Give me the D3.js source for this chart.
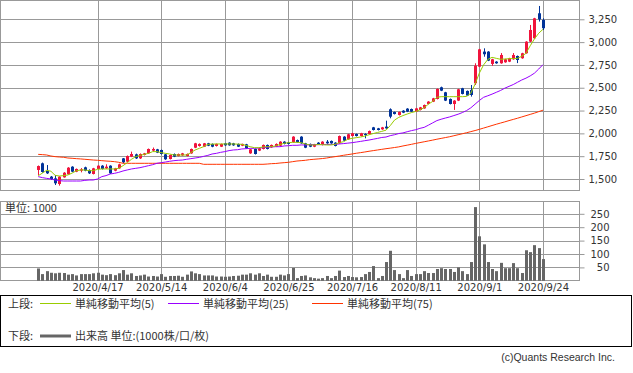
<!DOCTYPE html>
<html>
<head>
<meta charset="utf-8">
<script src="https://cdn.jsdelivr.net/npm/d3@7"></script>
<style>
body{margin:0;background:#fff;}
svg text{font-family:"DejaVu Sans",sans-serif;fill:#333;}
svg .jp{font-family:"Noto Sans CJK JP",sans-serif;}
</style>
</head>
<body>
<script>
//trading days shown on the chart
var dates = ["2020/3/30","2020/3/31","2020/4/1","2020/4/2","2020/4/3","2020/4/6","2020/4/7","2020/4/8","2020/4/9","2020/4/10",
    "2020/4/13","2020/4/14","2020/4/15","2020/4/16","2020/4/17","2020/4/20","2020/4/21","2020/4/22","2020/4/23","2020/4/24",
    "2020/4/27","2020/4/28","2020/4/30","2020/5/1","2020/5/7","2020/5/8","2020/5/11","2020/5/12","2020/5/13","2020/5/14",
    "2020/5/15","2020/5/18","2020/5/19","2020/5/20","2020/5/21","2020/5/22","2020/5/25","2020/5/26","2020/5/27","2020/5/28",
    "2020/5/29","2020/6/1","2020/6/2","2020/6/3","2020/6/4","2020/6/5","2020/6/8","2020/6/9","2020/6/10","2020/6/11",
    "2020/6/12","2020/6/15","2020/6/16","2020/6/17","2020/6/18","2020/6/19","2020/6/22","2020/6/23","2020/6/24","2020/6/25",
    "2020/6/26","2020/6/29","2020/6/30","2020/7/1","2020/7/2","2020/7/3","2020/7/6","2020/7/7","2020/7/8","2020/7/9",
    "2020/7/10","2020/7/13","2020/7/14","2020/7/15","2020/7/16","2020/7/17","2020/7/20","2020/7/21","2020/7/22","2020/7/27",
    "2020/7/28","2020/7/29","2020/7/30","2020/7/31","2020/8/3","2020/8/4","2020/8/5","2020/8/6","2020/8/7","2020/8/11",
    "2020/8/12","2020/8/13","2020/8/14","2020/8/17","2020/8/18","2020/8/19","2020/8/20","2020/8/21","2020/8/24","2020/8/25",
    "2020/8/26","2020/8/27","2020/8/28","2020/8/31","2020/9/1","2020/9/2","2020/9/3","2020/9/4","2020/9/7","2020/9/8",
    "2020/9/9","2020/9/10","2020/9/11","2020/9/14","2020/9/15","2020/9/16","2020/9/17","2020/9/18","2020/9/23","2020/9/24"];

//candle values
var opens = [1599,1672,1591,1526,1507,1445,1518,1551,1635,1580, 1591,1628,1599,1555,1610,1646,1617,1646,1591,1617,
    1726,1690,1745,1770,1726,1763,1781,1811,1825,1818, 1770,1719,1774,1752,1759,1752,1781,1843,1862,1854,
    1891,1884,1862,1854,1891,1898,1891,1884,1865,1880, 1781,1829,1811,1829,1873,1847,1854,1865,1909,1902,
    1902,1927,1964,1891,1884,1854,1898,1873,1909,1917, 1898,1891,1964,1935,1971,1993,1971,1993,1993,2066,
    2055,2044,2074,2264,2234,2201,2249,2271,2267,2238, 2256,2274,2322,2348,2377,2505,2450,2377,2322,2359,
    2494,2465,2476,2549,2731,2896,2896,2761,2786,2768, 2779,2786,2812,2848,2823,2878,3005,3042,3316,3243];
var highs = [1648,1680,1653,1533,1544,1530,1575,1630,1640,1615, 1620,1635,1605,1622,1650,1652,1661,1650,1622,1668,
    1730,1758,1800,1778,1780,1786,1834,1845,1830,1822, 1775,1768,1780,1779,1786,1780,1834,1896,1890,1895,
    1896,1890,1889,1888,1896,1902,1896,1889,1888,1885, 1830,1834,1842,1878,1878,1878,1890,1914,1914,1907,
    1969,1932,1969,1896,1889,1885,1904,1914,1927,1922, 1903,1976,1969,1995,2006,1998,2006,2001,2031,2071,
    2060,2071,2139,2274,2239,2239,2254,2276,2272,2279, 2290,2316,2353,2389,2492,2512,2455,2382,2364,2488,
    2499,2470,2530,2768,2926,2932,2901,2817,2791,2880, 2817,2828,2880,2853,2883,3010,3188,3266,3396,3261];
var lows = [1544,1569,1555,1489,1434,1427,1515,1548,1575,1575, 1573,1585,1555,1550,1605,1604,1610,1555,1585,1612,
    1675,1685,1740,1720,1720,1758,1776,1800,1784,1768, 1710,1714,1740,1748,1754,1748,1776,1838,1855,1850,
    1860,1848,1856,1850,1864,1865,1864,1850,1860,1830, 1776,1768,1806,1824,1824,1842,1850,1860,1879,1879,
    1897,1897,1886,1838,1849,1849,1875,1868,1886,1886, 1857,1886,1915,1930,1966,1966,1966,1946,1988,2032,
    2032,2039,2050,2165,2207,2196,2222,2233,2233,2233, 2251,2269,2317,2343,2372,2463,2354,2317,2257,2354,
    2427,2409,2403,2530,2726,2840,2792,2740,2763,2763, 2774,2781,2807,2770,2818,2873,3000,3037,3225,3133];
var closes = [1642,1577,1562,1500,1453,1526,1569,1624,1580,1610, 1606,1591,1562,1617,1646,1610,1635,1562,1617,1661,
    1683,1752,1774,1726,1774,1781,1829,1829,1789,1774, 1716,1763,1745,1774,1781,1774,1829,1891,1884,1891,
    1865,1854,1884,1884,1869,1869,1869,1854,1884,1836, 1825,1774,1836,1873,1829,1873,1884,1909,1884,1884,
    1964,1902,1891,1843,1854,1880,1880,1909,1891,1891, 1862,1971,1920,1990,2001,1971,2001,1982,2026,2037,
    2037,2066,2055,2183,2212,2234,2227,2238,2238,2274, 2285,2311,2348,2384,2487,2468,2359,2322,2359,2483,
    2432,2414,2421,2742,2921,2867,2797,2812,2768,2859, 2812,2823,2859,2804,2878,3005,3133,3261,3250,3152];

//moving averages
var sma5 = [1535,1565,1595,1585,1540,1533,1537,1544,1565,1590, 1599,1599,1591,1591,1606,1610,1610,1610,1610,1617,
    1646,1679,1716,1745,1759,1770,1781,1800,1800,1789, 1781,1774,1763,1763,1763,1763,1789,1818,1836,1854,
    1880,1882,1884,1884,1884,1884,1884,1882,1880,1868, 1854,1843,1843,1850,1854,1854,1862,1878,1891,1898,
    1902,1902,1898,1884,1873,1873,1878,1876,1873,1873, 1880,1898,1909,1935,1946,1953,1960,1970,1985,1998,
    2010,2022,2035,2085,2145,2175,2195,2212,2228,2240, 2258,2282,2320,2350,2395,2402,2402,2402,2402,2402,
    2402,2405,2440,2540,2660,2750,2810,2833,2822,2812, 2815,2818,2820,2822,2845,2877,2960,3035,3097,3140];
var sma25 = [1526,1515,1507,1500,1489,1482,1478,1478,1478,1478, 1478,1485,1489,1489,1500,1526,1537,1555,1562,1573,
    1588,1599,1610,1617,1624,1635,1646,1657,1672,1679, 1686,1694,1701,1705,1708,1716,1723,1730,1737,1748,
    1759,1774,1781,1792,1800,1811,1818,1821,1829,1832, 1836,1836,1840,1843,1847,1851,1854,1854,1862,1865,
    1869,1869,1873,1873,1876,1876,1876,1877,1878,1879, 1880,1884,1888,1893,1898,1905,1912,1920,1927,1936,
    1945,1955,1960,1975,1985,1998,2005,2018,2030,2040, 2055,2066,2090,2115,2140,2155,2168,2180,2195,2210,
    2228,2250,2280,2320,2360,2395,2412,2430,2450,2470, 2495,2515,2535,2560,2585,2605,2630,2660,2705,2753];
var sma75 = [1770,1767,1763,1752,1745,1741,1738,1730,1727,1723, 1720,1716,1712,1708,1705,1701,1697,1694,1690,1683,
    1672,1672,1672,1672,1672,1672,1672,1672,1672,1672, 1672,1672,1672,1672,1672,1672,1672,1672,1672,1661,
    1661,1661,1661,1661,1661,1661,1661,1661,1661,1661, 1661,1661,1661,1661,1664,1668,1670,1675,1679,1683,
    1690,1697,1701,1705,1712,1716,1720,1724,1730,1738, 1745,1752,1760,1767,1774,1782,1789,1796,1804,1811,
    1818,1825,1832,1838,1845,1852,1862,1871,1880,1890, 1899,1908,1917,1926,1936,1945,1954,1963,1974,1985,
    1996,2007,2019,2031,2044,2058,2072,2086,2100,2113, 2126,2140,2153,2166,2180,2194,2208,2222,2238,2254];

//volume in thousands
var volumes = [46,25,36,30,28,30,29,23,25,20, 25,25,25,28,30,23,21,25,21,28,
    40,23,28,18,20,23,16,18,16,25, 15,18,18,19,15,23,35,28,25,20,
    20,20,16,16,15,16,18,19,23,23, 28,23,28,18,23,15,15,23,20,25,
    48,10,18,20,13,10,8,10,18,10, 18,38,14,18,14,13,14,25,33,55,
    10,18,70,112,40,25,10,40,18,25, 25,36,29,29,44,47,44,44,33,50,
    36,25,70,275,166,136,70,44,36,67, 47,47,66,47,29,114,107,133,122,81];

var tickDates = ["2020/4/17","2020/5/14","2020/6/4","2020/6/25","2020/7/16","2020/8/11","2020/9/1","2020/9/24"];
var priceTicks = [1500,1750,2000,2250,2500,2750,3000,3250];
var volumeTicks = [50,100,150,200,250];

(function(){
    var width = 633, height = 373;
    var plotRight = 579;
    var upColor = "#f0143c", downColor = "#003399", gridColor = "#999";

    var svg = d3.select("body").append("svg")
        .attr("width", width)
        .attr("height", height);

    //scales
    var x = d3.scaleLinear().domain([-9, 127.5]).range([0, plotRight]);
    var yP = d3.scaleLinear().domain([1500, 3250]).range([179, 19.3]);
    var yV = d3.scaleLinear().domain([0, 250]).range([280.8, 213.8]);
    var px = function(v){ return Math.round(v) + 0.5; };
    var tickIdx = tickDates.map(function(d){ return dates.indexOf(d); });

    //price panel grid
    svg.append("g").selectAll("line").data(priceTicks).enter().append("line")
        .attr("x1", 0).attr("x2", plotRight)
        .attr("y1", function(d){ return px(yP(d)); })
        .attr("y2", function(d){ return px(yP(d)); })
        .attr("stroke", gridColor);
    svg.append("g").selectAll("line").data(tickIdx).enter().append("line")
        .attr("x1", function(d){ return px(x(d)); })
        .attr("x2", function(d){ return px(x(d)); })
        .attr("y1", 0).attr("y2", 190)
        .attr("stroke", gridColor);

    //volume panel grid
    svg.append("g").selectAll("line").data(volumeTicks).enter().append("line")
        .attr("x1", 0).attr("x2", plotRight)
        .attr("y1", function(d){ return px(yV(d)); })
        .attr("y2", function(d){ return px(yV(d)); })
        .attr("stroke", gridColor);
    svg.append("g").selectAll("line").data(tickIdx).enter().append("line")
        .attr("x1", function(d){ return px(x(d)); })
        .attr("x2", function(d){ return px(x(d)); })
        .attr("y1", 201).attr("y2", 281)
        .attr("stroke", gridColor);

    //panel frames
    svg.append("rect").attr("x", 0.5).attr("y", 0.5).attr("width", plotRight).attr("height", 190)
        .attr("fill", "none").attr("stroke", gridColor);
    svg.append("rect").attr("x", 0.5).attr("y", 201.5).attr("width", plotRight).attr("height", 79)
        .attr("fill", "none").attr("stroke", gridColor);

    //price axis
    var pAxis = svg.append("g")
        .attr("transform", "translate(" + (plotRight + 0.5) + ",0)")
        .call(d3.axisRight(yP).tickValues(priceTicks).tickSize(5).tickPadding(4).tickFormat(d3.format(",")));
    pAxis.select(".domain").remove();
    pAxis.selectAll("line").attr("stroke", gridColor);
    pAxis.selectAll("text").style("font-size", "10px").attr("fill", "#333");

    //volume axis
    var vAxis = svg.append("g")
        .attr("transform", "translate(" + (plotRight + 0.5) + ",0)")
        .call(d3.axisRight(yV).tickValues(volumeTicks).tickSize(5));
    vAxis.select(".domain").remove();
    vAxis.selectAll("line").attr("stroke", gridColor);
    vAxis.selectAll("text").attr("x", 30).attr("text-anchor", "end")
        .style("font-size", "10px").attr("fill", "#333");

    //date axis
    var dAxis = svg.append("g")
        .attr("transform", "translate(0,281)")
        .call(d3.axisBottom(x).tickValues(tickIdx).tickSize(0).tickPadding(3)
            .tickFormat(function(i){ return dates[i]; }));
    dAxis.select(".domain").remove();
    dAxis.selectAll("text").style("font-size", "10px").attr("fill", "#333");

    svg.append("text").attr("class", "jp").attr("x", 5).attr("y", 212)
        .style("font-size", "11px").text("単位: 1000");

    //volume bars
    svg.append("g").selectAll("rect").data(volumes).enter().append("rect")
        .attr("x", function(d, i){ return Math.round(x(i)) - 1; })
        .attr("width", 3)
        .attr("y", function(d){ return yV(d); })
        .attr("height", function(d){ return yV(0) - yV(d); })
        .attr("fill", "#666");

    //candles
    var candles = svg.append("g").selectAll("g").data(dates).enter().append("g");
    candles.append("line")
        .attr("x1", function(d, i){ return Math.round(x(i)) + 0.5; })
        .attr("x2", function(d, i){ return Math.round(x(i)) + 0.5; })
        .attr("y1", function(d, i){ return yP(highs[i]); })
        .attr("y2", function(d, i){ return yP(lows[i]); })
        .attr("stroke", function(d, i){ return closes[i] >= opens[i] ? upColor : downColor; });
    candles.append("rect")
        .attr("x", function(d, i){ return Math.round(x(i)) - 1; })
        .attr("width", 3)
        .attr("y", function(d, i){ return yP(Math.max(opens[i], closes[i])); })
        .attr("height", function(d, i){ return Math.max(1, Math.abs(yP(opens[i]) - yP(closes[i]))); })
        .attr("fill", function(d, i){ return closes[i] >= opens[i] ? upColor : downColor; });

    //moving average lines
    var line = d3.line()
        .x(function(d, i){ return x(i); })
        .y(function(d){ return yP(d); });
    [[sma75, "#ff3300"], [sma25, "#9900ff"], [sma5, "#99cc00"]].forEach(function(s){
        svg.append("path").datum(s[0])
            .attr("d", line)
            .attr("fill", "none")
            .attr("stroke", s[1])
            .attr("stroke-width", 1);
    });

    //legend box
    svg.append("rect").attr("x", 0.5).attr("y", 295.5).attr("width", 631).attr("height", 51)
        .attr("fill", "none").attr("stroke", "#000");
    var legendItems = [
        {label: "単純移動平均(5)", color: "#99cc00", x: 40},
        {label: "単純移動平均(25)", color: "#9900ff", x: 168},
        {label: "単純移動平均(75)", color: "#ff3300", x: 312}
    ];
    svg.append("text").attr("class", "jp").attr("x", 8).attr("y", 308)
        .style("font-size", "11px").text("上段:");
    legendItems.forEach(function(d){
        svg.append("line").attr("x1", d.x).attr("x2", d.x + 31)
            .attr("y1", 303.5).attr("y2", 303.5).attr("stroke", d.color);
        svg.append("text").attr("class", "jp").attr("x", d.x + 35).attr("y", 308)
            .style("font-size", "11px").text(d.label);
    });
    svg.append("text").attr("class", "jp").attr("x", 8).attr("y", 340)
        .style("font-size", "11px").text("下段:");
    svg.append("line").attr("x1", 40).attr("x2", 71)
        .attr("y1", 336).attr("y2", 336).attr("stroke", "#666").attr("stroke-width", 3);
    svg.append("text").attr("class", "jp").attr("x", 75).attr("y", 340)
        .style("font-size", "11px").text("出来高 単位:(1000株/口/枚)");

    //credit
    svg.append("text").attr("x", 615).attr("y", 361).attr("text-anchor", "end")
        .style("font-family", "'Liberation Sans', sans-serif").style("font-size", "10.5px")
        .attr("fill", "#666").text("(c)Quants Research Inc.");
})();
</script>
</body>
</html>
